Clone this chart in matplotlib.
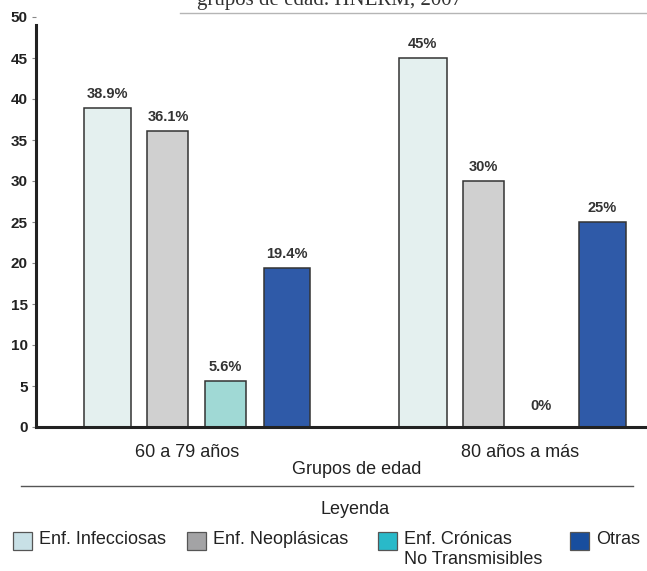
import numpy as np
import matplotlib
matplotlib.use('Agg')
import matplotlib.pyplot as plt
from matplotlib.patches import Rectangle

# Age groups and share (%) of each disease type
grupos = ['60 a 79 años', '80 años a más']
infecciosas = [38.9, 45]
neoplasicas = [36.1, 30]
cronicas = [5.6, 0]
otras = [19.4, 25]

series = [infecciosas, neoplasicas, cronicas, otras]
bar_colors = ['#e4f0ef', '#d0d0d0', '#a0d9d5', '#2f5aa8']
offsets = [-0.284, -0.092, 0.090, 0.285]
widths = [0.150, 0.130, 0.130, 0.146]

legend_labels = ['Enf. Infecciosas', 'Enf. Neoplásicas', 'Enf. Crónicas\nNo Transmisibles', 'Otras']
legend_colors = ['#c8e0e6', '#a3a3a5', '#29b9c9', '#184e9e']

plt.rcParams['font.family'] = ['Liberation Sans', 'DejaVu Sans']
FS = 13

W, H = 647, 571
fig = plt.figure(figsize=(W / 100, H / 100), dpi=100)
ax = fig.add_axes([36 / W, 144 / H, (W - 36) / W, 410 / H])

x = np.arange(len(grupos))
for vals, off, w, c in zip(series, offsets, widths, bar_colors):
    bars = ax.bar(x + off, vals, width=w, color=c, edgecolor='#333333', linewidth=1.1, zorder=2)
    for b, v in zip(bars, vals):
        ax.annotate('{:g}%'.format(v), (b.get_x() + b.get_width() / 2, v),
                    xytext=(0, 5 if v > 0 else 10), textcoords='offset points',
                    ha='center', va='bottom', fontsize=10.5, fontweight='bold', color='#333333')

ax.set_xlim(-0.51, 1.426)
ax.set_ylim(0, 50)
ax.set_yticks(range(0, 51, 5))
ax.tick_params(axis='y', labelsize=11, length=3, width=0.8, color='#888888', pad=3)
for lbl in ax.get_yticklabels():
    lbl.set_fontweight('bold')
    lbl.set_color('#222222')
# group labels sit slightly off the group centres
ax.set_xticks(x + np.array([-0.03, 0.025]))
ax.set_xticklabels(grupos, fontsize=FS, color='#222222')
ax.tick_params(axis='x', length=0, pad=12)

for s in ['top', 'right']:
    ax.spines[s].set_visible(False)
ax.spines['left'].set_linewidth(2.2)
ax.spines['left'].set_color('#222222')
ax.spines['left'].set_bounds(0, 49)
ax.spines['bottom'].set_linewidth(2.2)
ax.spines['bottom'].set_color('#222222')

fig.text(357 / W, 1 - 470 / H, 'Grupos de edad', ha='center', va='center', fontsize=FS, color='#222222')

# Header fragment and separator lines
fig.text(330 / W, 1 - 5 / H, 'grupos de edad. HNERM, 2007', ha='center', va='baseline',
         fontsize=15, family='Liberation Serif', color='#333333')
fig.add_artist(plt.Line2D([180 / W, 1], [1 - 13 / H, 1 - 13 / H], color='#b5b5b5', lw=1))
fig.add_artist(plt.Line2D([21 / W, 633 / W], [1 - 486 / H, 1 - 486 / H], color='#555555', lw=1))

# Legend
fig.text(355 / W, 1 - 509 / H, 'Leyenda', ha='center', va='center', fontsize=FS, color='#222222')
box_x = [13, 187, 378, 570]
for bx, lab, c in zip(box_x, legend_labels, legend_colors):
    fig.add_artist(Rectangle((bx / W, 1 - 550 / H), 19 / W, 18 / H, facecolor=c,
                             edgecolor='#555555', lw=0.9, transform=fig.transFigure))
    lines = lab.split('\n')
    for i, line in enumerate(lines):
        fig.text((bx + 26) / W, 1 - (539 + 21 * i) / H, line, ha='left', va='center',
                 fontsize=FS, color='#222222')

fig.savefig('out.png', dpi=100)
